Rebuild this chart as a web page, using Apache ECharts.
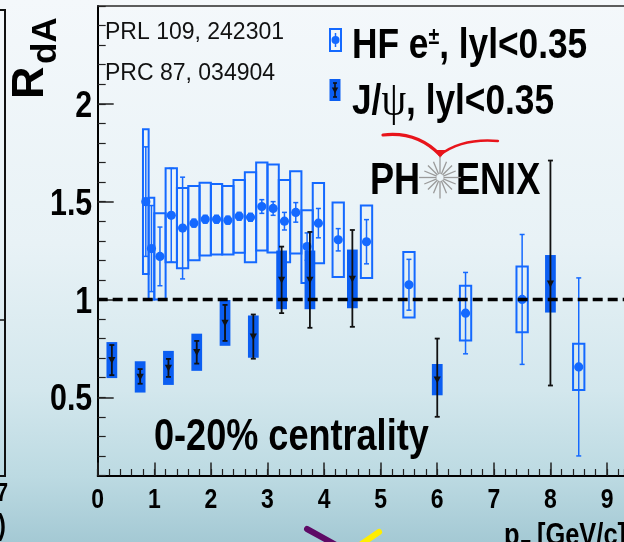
<!DOCTYPE html>
<html>
<head>
<meta charset="utf-8">
<script src="https://cdn.jsdelivr.net/npm/echarts@6/dist/echarts.min.js"></script>
<style>
  html, body { margin: 0; padding: 0; }
  #chart { width: 624px; height: 542px; }
</style>
</head>
<body>
<div id="chart"></div>
<script>
// Heavy-flavour electrons, |y|<0.35 (value, stat. error, syst. error)
const hfPt   = [0.85, 0.95, 1.1, 1.3, 1.5, 1.7, 1.9, 2.1, 2.3, 2.5, 2.7, 2.9, 3.1, 3.3, 3.5, 3.7, 3.9, 4.25, 4.75, 5.5, 6.5, 7.5, 8.5];
const hfVal  = [1.50, 1.26, 1.22, 1.43, 1.365, 1.39, 1.41, 1.41, 1.405, 1.425, 1.42, 1.475, 1.465, 1.40, 1.445, 1.27, 1.39, 1.305, 1.295, 1.075, 0.93, 1.00, 0.655];
const hfStat = [0.28, 0.22, 0.15, 0.24, 0.26, 0.02, 0.02, 0.02, 0.02, 0.02, 0.02, 0.035, 0.035, 0.045, 0.05, 0.07, 0.075, 0.057, 0.113, 0.13, 0.208, 0.332, 0.455];
const hfSys  = [0.37, 0.26, 0.22, 0.24, 0.205, 0.19, 0.186, 0.18, 0.175, 0.186, 0.23, 0.225, 0.225, 0.21, 0.21, 0.186, 0.205, 0.19, 0.185, 0.167, 0.14, 0.168, 0.118];

// J/psi, |y|<0.35 (value, stat. up/down, syst. error)
const jpPt       = [0.25, 0.75, 1.25, 1.75, 2.25, 2.75, 3.25, 3.75, 4.5, 6.0, 8.0];
const jpVal      = [0.69, 0.604, 0.65, 0.73, 0.88, 0.81, 1.10, 1.10, 1.105, 0.59, 1.08];
const jpStatUp   = [0.077, 0.04, 0.046, 0.058, 0.092, 0.113, 0.17, 0.245, 0.25, 0.21, 0.63];
const jpStatDown = [0.077, 0.035, 0.046, 0.058, 0.092, 0.113, 0.17, 0.245, 0.245, 0.19, 0.52];
const jpSys      = [0.092, 0.08, 0.087, 0.095, 0.117, 0.108, 0.15, 0.15, 0.15, 0.08, 0.147];

// Axes (the frame runs past the right edge of the page)
const xMin = 0, xMax = 9.3;
const yMin = 0.1, yMax = 2.5;
const xTicks = [0, 1, 2, 3, 4, 5, 6, 7, 8, 9];
const yTicks = [0.5, 1, 1.5, 2];
const refLevel = 1;

const BLUE = '#1469ff';
const BLUE_FILL = '#0b5ef2';
const SANS = '"Liberation Sans", Arial, sans-serif';
const NARROW_SCALE = 0.82;   // condensed Helvetica look

function renderHF(params, api) {
  const x = api.value(0), y = api.value(1), st = api.value(2), sy = api.value(3);
  const hw = x < 1 ? 0.05 : 0.1;
  const a = api.coord([x - hw, y + sy]);
  const b = api.coord([x + hw, y - sy]);
  const c = api.coord([x, y]);
  const t = api.coord([x, y + st]);
  const d = api.coord([x, y - st]);
  return {
    type: 'group',
    children: [
      { type: 'rect', shape: { x: a[0], y: a[1], width: b[0] - a[0], height: b[1] - a[1] },
        style: { fill: 'none', stroke: BLUE, lineWidth: 2 } },
      { type: 'line', shape: { x1: c[0], y1: t[1], x2: c[0], y2: d[1] }, style: { stroke: BLUE, lineWidth: 1.5 } },
      { type: 'line', shape: { x1: c[0] - 2.5, y1: t[1], x2: c[0] + 2.5, y2: t[1] }, style: { stroke: BLUE, lineWidth: 1.5 } },
      { type: 'line', shape: { x1: c[0] - 2.5, y1: d[1], x2: c[0] + 2.5, y2: d[1] }, style: { stroke: BLUE, lineWidth: 1.5 } },
      { type: 'circle', shape: { cx: c[0], cy: c[1], r: 4.6 }, style: { fill: BLUE } }
    ]
  };
}

function renderJpsi(params, api) {
  const x = api.value(0), y = api.value(1), su = api.value(2), sd = api.value(3), sy = api.value(4);
  const hw = 0.095;
  const a = api.coord([x - hw, y + sy]);
  const b = api.coord([x + hw, y - sy]);
  const c = api.coord([x, y]);
  const t = api.coord([x, y + su]);
  const d = api.coord([x, y - sd]);
  return {
    type: 'group',
    children: [
      { type: 'rect', shape: { x: a[0], y: a[1], width: b[0] - a[0], height: b[1] - a[1] },
        style: { fill: BLUE_FILL } },
      { type: 'line', shape: { x1: c[0], y1: t[1], x2: c[0], y2: d[1] }, style: { stroke: '#111', lineWidth: 1.8 } },
      { type: 'line', shape: { x1: c[0] - 2.5, y1: t[1], x2: c[0] + 2.5, y2: t[1] }, style: { stroke: '#111', lineWidth: 1.8 } },
      { type: 'line', shape: { x1: c[0] - 2.5, y1: d[1], x2: c[0] + 2.5, y2: d[1] }, style: { stroke: '#111', lineWidth: 1.8 } },
      { type: 'polygon', shape: { points: [[c[0] - 3.6, c[1] - 3.2], [c[0] + 3.6, c[1] - 3.2], [c[0], c[1] + 3.6]] },
        style: { fill: '#111' } }
    ]
  };
}

// condensed bold tick labels placed on the axis scale
function renderYLabel(params, api) {
  const p = api.coord([xMin, api.value(1)]);
  return { type: 'text', x: p[0] - 5.5, y: p[1] + 3, scaleX: NARROW_SCALE,
    style: { text: String(api.value(1)), font: 'bold 37px ' + SANS, fill: '#000', align: 'right', verticalAlign: 'middle' } };
}
function renderXLabel(params, api) {
  const p = api.coord([api.value(0), yMin]);
  return { type: 'text', x: p[0], y: p[1] + 11, scaleX: NARROW_SCALE,
    style: { text: String(api.value(0)), font: 'bold 28px ' + SANS, fill: '#000', align: 'center', verticalAlign: 'top' } };
}

function ntext(x, y, str, size, extra) {
  return Object.assign({ type: 'text', x: x, y: y, z: 100, scaleX: NARROW_SCALE,
    style: { text: str, font: 'bold ' + size + 'px ' + SANS, textAlign: 'left', textVerticalAlign: 'top', fill: '#000' } }, extra || {});
}

// PHENIX logo starburst spokes
const burst = [];
for (let k = 0; k < 16; k++) {
  const ang = k * Math.PI / 8;
  const r1 = 3.5, r2 = (k % 4 === 0) ? 21 : 17;
  burst.push({
    type: 'line',
    shape: { x1: 440 + r1 * Math.cos(ang), y1: 177.5 + r1 * Math.sin(ang),
             x2: 440 + r2 * Math.cos(ang), y2: 177.5 + r2 * Math.sin(ang) },
    style: { stroke: '#9a9a9a', lineWidth: 1.3 }, z: 100
  });
}

const graphics = [
  // slide background
  { type: 'rect', shape: { x: 0, y: 0, width: 624, height: 542 }, silent: true, z: -100,
    style: { fill: new echarts.graphic.LinearGradient(0, 0, 0, 1, [
      { offset: 0, color: '#f4f8fb' },
      { offset: 0.45, color: '#e8f2f6' },
      { offset: 0.72, color: '#d3e7ed' },
      { offset: 0.88, color: '#bcdae2' },
      { offset: 1, color: '#a4c9d4' }
    ]) } },
  // edge of the neighbouring panel
  { type: 'polyline', shape: { points: [[0, 10], [5, 10], [5, 476], [0, 476]] }, style: { stroke: '#111', lineWidth: 2, fill: 'none' }, z: 100 },
  { type: 'line', shape: { x1: 0, y1: 320, x2: 5, y2: 320 }, style: { stroke: '#111', lineWidth: 1.5 }, z: 100 },
  ntext(8, 481, '7', 26, { style: { text: '7', font: 'bold 26px ' + SANS, textAlign: 'right', textVerticalAlign: 'top', fill: '#000' } }),
  ntext(6, 512, ')', 30, { style: { text: ')', font: 'bold 30px ' + SANS, textAlign: 'right', textVerticalAlign: 'top', fill: '#000' } }),
  // decorative strokes at the bottom of the slide
  { type: 'line', shape: { x1: 307, y1: 529, x2: 336, y2: 545 }, style: { stroke: '#5e0a66', lineWidth: 6, lineCap: 'round' }, z: 100 },
  { type: 'line', shape: { x1: 379, y1: 532, x2: 360, y2: 545 }, style: { stroke: '#ffee00', lineWidth: 6, lineCap: 'round' }, z: 100 },
  // y-axis title R_dA
  { type: 'text', x: 53, y: 99, rotation: Math.PI / 2, z: 100,
    style: { text: 'R', font: 'bold 45px ' + SANS, textAlign: 'left', textVerticalAlign: 'bottom', fill: '#000' } },
  { type: 'text', x: 64, y: 64, rotation: Math.PI / 2, z: 100,
    style: { text: 'dA', font: 'bold 35px ' + SANS, textAlign: 'left', textVerticalAlign: 'bottom', fill: '#000' } },
  // x-axis title
  ntext(504, 521, 'p', 31),
  ntext(521, 538, 'T', 19),
  ntext(537, 521, '[GeV/c]', 31),
  // references
  { type: 'text', x: 105, y: 21, z: 100, style: { text: 'PRL 109, 242301', font: '23px ' + SANS, textAlign: 'left', textVerticalAlign: 'top', fill: '#111' } },
  { type: 'text', x: 105, y: 62, z: 100, style: { text: 'PRC 87, 034904', font: '23px ' + SANS, textAlign: 'left', textVerticalAlign: 'top', fill: '#111' } },
  // legend: heavy-flavour electrons
  { type: 'rect', shape: { x: 330, y: 29, width: 11, height: 22 }, style: { fill: 'none', stroke: BLUE, lineWidth: 2 }, z: 100 },
  { type: 'line', shape: { x1: 335.5, y1: 33, x2: 335.5, y2: 47 }, style: { stroke: BLUE, lineWidth: 1.5 }, z: 100 },
  { type: 'circle', shape: { cx: 335.5, cy: 40, r: 4 }, style: { fill: BLUE }, z: 100 },
  { type: 'text', x: 352, y: 25, z: 100, scaleX: NARROW_SCALE,
    style: { text: '{m|HF e}{s|±}{m|, lyl<0.35}', textAlign: 'left', textVerticalAlign: 'top', fill: '#000',
      rich: { m: { font: 'bold 43px ' + SANS, fill: '#000', verticalAlign: 'bottom' },
              s: { font: 'bold 24px ' + SANS, fill: '#000', verticalAlign: 'top' } } } },
  // legend: J/psi
  { type: 'rect', shape: { x: 329.5, y: 79, width: 11, height: 22 }, style: { fill: BLUE_FILL }, z: 100 },
  { type: 'line', shape: { x1: 335, y1: 83, x2: 335, y2: 97 }, style: { stroke: '#111', lineWidth: 1.6 }, z: 100 },
  { type: 'line', shape: { x1: 333, y1: 83, x2: 337, y2: 83 }, style: { stroke: '#111', lineWidth: 1.6 }, z: 100 },
  { type: 'line', shape: { x1: 333, y1: 97, x2: 337, y2: 97 }, style: { stroke: '#111', lineWidth: 1.6 }, z: 100 },
  { type: 'polygon', shape: { points: [[331.8, 87.5], [338.2, 87.5], [335, 93.5]] }, style: { fill: '#111' }, z: 100 },
  { type: 'text', x: 352, y: 78, z: 100, scaleX: NARROW_SCALE,
    style: { text: '{m|J/}{p|ψ}{m|, lyl<0.35}', textAlign: 'left', textVerticalAlign: 'top', fill: '#000',
      rich: { m: { font: 'bold 43px ' + SANS, fill: '#000' },
              p: { font: '48px "Liberation Serif", "DejaVu Serif", serif', fill: '#000' } } } },
  // PHENIX logo
  ntext(370, 160, 'PH', 44),
  ntext(456, 160, 'ENIX', 44),
  { type: 'bezierCurve', z: 100, shape: { x1: 383, y1: 135, cpx1: 417, cpy1: 131, x2: 440, y2: 155 },
    style: { stroke: '#e8141b', lineWidth: 3.2, fill: 'none', lineCap: 'round' } },
  { type: 'bezierCurve', z: 100, shape: { x1: 440, y1: 155, cpx1: 462, cpy1: 138, x2: 498, y2: 141 },
    style: { stroke: '#e8141b', lineWidth: 2.4, fill: 'none', lineCap: 'round' } },
  { type: 'polygon', z: 100, shape: { points: [[435, 150], [446, 150], [440, 158]] }, style: { fill: '#e8141b' } },
  // centrality label
  ntext(154, 416, '0-20% centrality', 44)
].concat(burst);

const chart = echarts.init(document.getElementById('chart'));
chart.setOption({
  animation: false,
  grid: { left: 97.7, top: 6, right: 0, bottom: 66.5, show: false },
  xAxis: [
    { type: 'value', min: xMin, max: xMax, interval: 1, position: 'bottom',
      axisLine: { show: true, onZero: false, lineStyle: { color: '#000', width: 2 } },
      axisTick: { show: true, inside: true, length: 13, customValues: xTicks, lineStyle: { color: '#222', width: 1.5 } },
      axisLabel: { show: false },
      splitLine: { show: false } },
    { type: 'value', min: xMin, max: xMax, interval: 0.2, position: 'bottom',
      axisLine: { show: false },
      axisTick: { show: true, inside: true, length: 6.5, lineStyle: { color: '#222', width: 1.2 } },
      axisLabel: { show: false }, splitLine: { show: false } },
    // upper frame edge
    { type: 'value', min: xMin, max: xMax, position: 'top',
      axisLine: { show: true, onZero: false, lineStyle: { color: '#2a2a2a', width: 1.5 } },
      axisTick: { show: false }, axisLabel: { show: false }, splitLine: { show: false } }
  ],
  yAxis: [
    { type: 'value', min: yMin, max: yMax, position: 'left',
      axisLine: { show: true, onZero: false, lineStyle: { color: '#000', width: 2 } },
      axisTick: { show: true, inside: true, length: 16, customValues: yTicks, lineStyle: { color: '#222', width: 1.5 } },
      axisLabel: { show: false },
      splitLine: { show: false } },
    { type: 'value', min: yMin, max: yMax, interval: 0.1, position: 'left',
      axisLine: { show: false },
      axisTick: { show: true, inside: true, length: 8, lineStyle: { color: '#222', width: 1.2 } },
      axisLabel: { show: false }, splitLine: { show: false } }
  ],
  graphic: { elements: graphics },
  series: [
    { type: 'custom', name: 'HF e±', xAxisIndex: 0, yAxisIndex: 0, z: 2, renderItem: renderHF,
      data: hfPt.map((x, i) => [x, hfVal[i], hfStat[i], hfSys[i]]) },
    { type: 'custom', name: 'J/ψ', xAxisIndex: 0, yAxisIndex: 0, z: 3, renderItem: renderJpsi,
      data: jpPt.map((x, i) => [x, jpVal[i], jpStatUp[i], jpStatDown[i], jpSys[i]]) },
    { type: 'line', name: 'unity', xAxisIndex: 0, yAxisIndex: 0, z: 4, symbol: 'none', silent: true,
      lineStyle: { color: '#000', width: 3.5, type: [10, 5] },
      data: [[xMin, refLevel], [xMax, refLevel]] },
    { type: 'custom', name: 'yLabels', xAxisIndex: 0, yAxisIndex: 0, z: 5, silent: true, renderItem: renderYLabel,
      data: yTicks.map(v => [xMin, v]) },
    { type: 'custom', name: 'xLabels', xAxisIndex: 0, yAxisIndex: 0, z: 5, silent: true, renderItem: renderXLabel,
      data: xTicks.map(v => [v, yMin]) }
  ]
});
</script>
</body>
</html>
